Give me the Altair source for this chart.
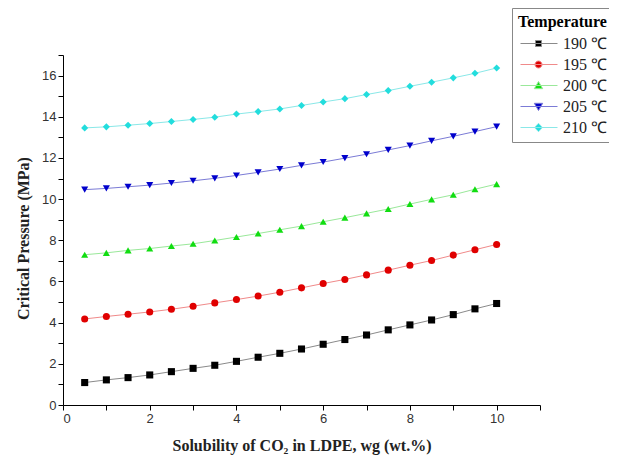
import altair as alt
import pandas as pd

solubility = [0.5, 1.0, 1.5, 2.0, 2.5, 3.0, 3.5, 4.0, 4.5, 5.0,
              5.5, 6.0, 6.5, 7.0, 7.5, 8.0, 8.5, 9.0, 9.5, 10.0]
temperatures = ["190 ℃", "195 ℃", "200 ℃", "205 ℃", "210 ℃"]
p190 = [1.09, 1.22, 1.33, 1.46, 1.62, 1.78, 1.93, 2.12, 2.32, 2.51,
        2.72, 2.95, 3.18, 3.40, 3.65, 3.89, 4.13, 4.39, 4.67, 4.93]
p195 = [4.18, 4.30, 4.41, 4.52, 4.65, 4.80, 4.96, 5.12, 5.29, 5.48,
        5.69, 5.90, 6.10, 6.32, 6.55, 6.79, 7.02, 7.28, 7.54, 7.80]
p200 = [7.30, 7.39, 7.51, 7.60, 7.72, 7.83, 7.99, 8.16, 8.33, 8.51,
        8.69, 8.90, 9.10, 9.31, 9.52, 9.76, 9.99, 10.21, 10.48, 10.73]
p205 = [10.46, 10.52, 10.60, 10.68, 10.78, 10.89, 11.01, 11.15, 11.30, 11.46,
        11.64, 11.80, 11.99, 12.18, 12.39, 12.60, 12.83, 13.05, 13.28, 13.52]
p210 = [13.46, 13.51, 13.59, 13.67, 13.77, 13.87, 13.98, 14.13, 14.25, 14.38,
        14.55, 14.72, 14.88, 15.08, 15.27, 15.48, 15.68, 15.89, 16.11, 16.37]
series = [p190, p195, p200, p205, p210]

marker_colors = ["#000000", "#e00000", "#11dd11", "#0000cc", "#22dddd"]
line_colors = ["#8a8a8a", "#f08a8a", "#9ae89a", "#7b7bd6", "#8ae8e8"]
shapes = ["square", "circle", "triangle-up", "triangle-down", "diamond"]
# legend glyphs: a short line with the marker in its middle (unit = 10 px)
legend_shapes = [
    "M-0.8,0H2.9M0.7,-0.3H1.3V0.3H0.7Z",
    "M-0.8,0H2.9M0.65,0A0.35,0.35,0,1,0,1.35,0A0.35,0.35,0,1,0,0.65,0Z",
    "M-0.8,0H2.9M1,-0.4L1.42,0.32L0.58,0.32Z",
    "M-0.8,0H2.9M1,0.4L1.42,-0.32L0.58,-0.32Z",
    "M-0.8,0H2.9M1,-0.42L1.4,0L1,0.42L0.6,0Z",
]

rows = []
for t, vals in zip(temperatures, series):
    for xv, yv in zip(solubility, vals):
        rows.append({"w": xv, "P": yv, "T": t})
df = pd.DataFrame(rows)

x_enc = alt.X("w:Q", scale=alt.Scale(domain=[0, 11], nice=False),
              axis=alt.Axis(values=list(range(0, 12)),
                            labelExpr="datum.value % 2 == 0 ? datum.label : ''",
                            title="Solubility of CO₂ in LDPE, wg (wt.%)",
                            titlePadding=12))
y_enc = alt.Y("P:Q", scale=alt.Scale(domain=[0, 17], nice=False),
              axis=alt.Axis(values=list(range(0, 18)),
                            labelExpr="datum.value % 2 == 0 ? datum.label : ''",
                            title="Critical Pressure (MPa)",
                            titleY=183, titlePadding=10))

base = alt.Chart(df)

lines = base.mark_line(strokeWidth=1).encode(
    x=x_enc, y=y_enc,
    color=alt.Color("T:N", sort=temperatures,
                    scale=alt.Scale(domain=temperatures, range=line_colors),
                    legend=None),
    detail="T:N",
)

points = base.mark_point(filled=True, size=50, opacity=1).encode(
    x=x_enc, y=y_enc,
    color=alt.Color("T:N", scale=alt.Scale(domain=temperatures, range=marker_colors),
                    legend=None),
    shape=alt.Shape("T:N", scale=alt.Scale(domain=temperatures, range=shapes),
                    legend=None),
)

leg = alt.Legend(title="Temperature", orient="none", legendX=449, legendY=-47,
                 titleFont="Liberation Serif", titleFontSize=16, titleFontWeight="bold",
                 titleColor="#000", labelFont="Liberation Serif", labelFontSize=16,
                 labelColor="#222", symbolSize=400, symbolStrokeWidth=1,
                 symbolOpacity=1, strokeColor="#888", fillColor="white",
                 padding=6, rowPadding=2, labelOffset=24, titlePadding=3)

legend_layer = base.mark_point(filled=True, opacity=0).encode(
    x=x_enc, y=y_enc,
    fill=alt.Fill("T:N", scale=alt.Scale(domain=temperatures, range=marker_colors), legend=leg),
    stroke=alt.Stroke("T:N", scale=alt.Scale(domain=temperatures, range=line_colors), legend=leg),
    shape=alt.Shape("T:N", scale=alt.Scale(domain=temperatures, range=legend_shapes), legend=leg),
)

chart = alt.layer(lines, points, legend_layer).resolve_scale(
    color="independent", shape="independent", fill="independent", stroke="independent"
).properties(
    width=477, height=350,
    autosize=alt.AutoSizeParams(type="none"),
    padding={"left": 55, "top": 47, "right": 69, "bottom": 60},
).configure_view(stroke=None).configure_axis(
    grid=False, domainColor="#000", tickColor="#000", tickSize=5,
    labelFont="Liberation Sans", labelFontSize=13, labelColor="#333",
    titleFont="Liberation Serif", titleFontSize=16, titleFontWeight="bold",
    titleColor="#222",
)

chart.save("out.html", embed_options={"renderer": "svg", "actions": False})
